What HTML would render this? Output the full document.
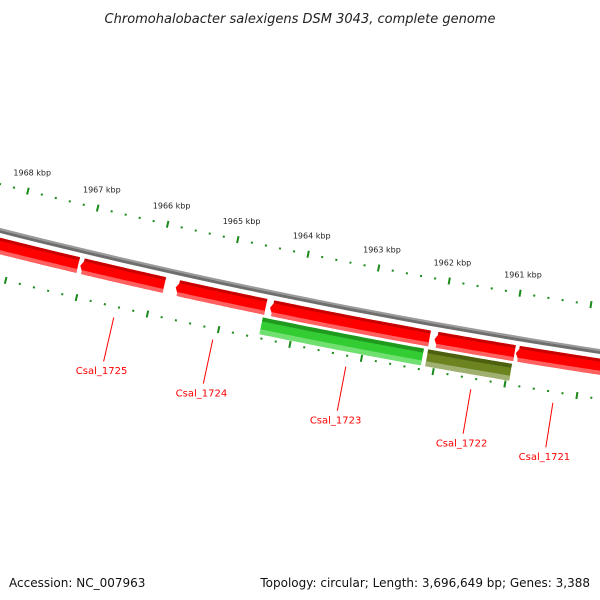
<!DOCTYPE html>
<html><head><meta charset="utf-8"><style>
html,body{margin:0;padding:0;background:#fff;}
svg{display:block;font-family:"DejaVu Sans","Liberation Sans",sans-serif;}
</style></head><body>
<svg id="map" width="600" height="600" viewBox="0 0 600 600" xmlns="http://www.w3.org/2000/svg">
<text x="300" y="23" text-anchor="middle" font-size="13" font-style="italic" fill="#222">Chromohalobacter salexigens DSM 3043, complete genome</text>
<g id="ticks"></g>
<g id="backbone"></g>
<g id="genes"></g>
<g id="labels"></g>
<text x="9" y="587" font-size="12" fill="#111">Accession: NC_007963</text>
<text x="590" y="587" text-anchor="end" font-size="12" fill="#111">Topology: circular; Length: 3,696,649 bp; Genes: 3,388</text>
</svg>
<script>
const tickKbp = [1959,1960,1961,1962,1963,1964,1965,1966,1967,1968,1969];
const tickLabels = ["1961 kbp","1962 kbp","1963 kbp","1964 kbp","1965 kbp","1966 kbp","1967 kbp","1968 kbp"];
const tickLabelKbp = [1961,1962,1963,1964,1965,1966,1967,1968];
const upperStarts = [1968.95,1967.05,1965.70,1964.37,1962.06,1960.92];
const upperEnds   = [1967.08,1965.86,1964.43,1962.13,1960.94,1958.8];
const lowerStarts = [1964.44,1962.12];
const lowerEnds   = [1962.18,1960.95];
const lowerColors = ["green","olive"];
const labelNames = ["Csal_1725","Csal_1724","Csal_1723","Csal_1722","Csal_1721"];
const labelKbp = [1966.44,1965.05,1963.19,1961.45,1960.31];

const NS="http://www.w3.org/2000/svg";
const A=1558.5,B=-5949,T0=-0.1989,D=0.01135,R=6373;
function ang(k){return T0+(1964-k)*D;}
function pt(k,r){const t=ang(k);return [A+r*Math.sin(t),B+r*Math.cos(t)];}
function mk(tag,attrs,parent){const e=document.createElementNS(NS,tag);for(const k in attrs)e.setAttribute(k,attrs[k]);parent.appendChild(e);return e;}
function arcPts(k1,k2,r){const p=[];const n=30;for(let i=0;i<=n;i++){p.push(pt(k1+(k2-k1)*i/n,r));}return p;}
function band(k1,k2,r1,r2){const a=arcPts(k1,k2,r1),b=arcPts(k2,k1,r2);return a.concat(b).map(p=>p[0].toFixed(1)+","+p[1].toFixed(1)).join(" ");}

const ticks=document.getElementById('ticks');
[6328,6420].forEach((rr,ri)=>{
  for(let k=1958.8;k<=1969.2;k+=0.2){
    const kk=Math.round(k*5)/5;
    const major=tickKbp.some(v=>Math.abs(v-kk)<1e-6);
    const h=major?3.5:1;
    const p1=pt(kk,rr-h),p2=pt(kk,rr+h);
    const l=mk('line',{x1:p1[0],y1:p1[1],x2:p2[0],y2:p2[1],stroke:'#1a8a1a','stroke-width':2},ticks);
    
    
  }
});
tickLabels.forEach((s,i)=>{
  const p=pt(tickLabelKbp[i],6310);
  const t=mk('text',{x:p[0],y:p[1]+2,'text-anchor':'middle','font-size':8,fill:'#222'},ticks);
  t.textContent=s;
  
  
});

const bb=document.getElementById('backbone');
[[R-2.5,R-0.5,'#9a9a9a'],[R-0.5,R+2.5,'#6e6e6e']].forEach(b=>{
  const p=mk('polygon',{points:band(1958.5,1969.5,b[0],b[1]),fill:b[2]},bb);
  
  
});

const gg=document.getElementById('genes');
const ah=0.06;
function arrowGene(k1,k2,r1,r2,cols,name){
  const g=mk('g',{},gg);
  
  
  const hi=Math.max(k1,k2),lo=Math.min(k1,k2);
  const rm=(r1+r2)/2;
  // outline polygon with arrow tip at hi end
  const top=arcPts(hi-ah,lo,r1), bot=arcPts(lo,hi-ah,r2);
  const pts=top.concat(bot,[pt(hi,rm)]);
  mk('polygon',{points:pts.map(p=>p[0].toFixed(1)+","+p[1].toFixed(1)).join(" "),fill:cols[1]},g);
  mk('polygon',{points:band(hi-ah*0.6,lo,r1,r1+3),fill:cols[0]},g);
  mk('polygon',{points:band(hi-ah*0.6,lo,r2-4,r2),fill:cols[2]},g);
}
upperStarts.forEach((s,i)=>arrowGene(s,upperEnds[i],R+7,R+23,['#c80000','#ff0000','#ff6060'],'cds-upper-'+i));
const palette={green:['#1f9a1f','#33cc33','#70e070'],olive:['#4d6010','#6b8420','#a0b070']};
lowerStarts.forEach((s,i)=>{
  const c=palette[lowerColors[i]];
  const g=mk('g',{},gg);
  
  
  mk('polygon',{points:band(s,lowerEnds[i],R+26,R+43),fill:c[1]},g);
  mk('polygon',{points:band(s,lowerEnds[i],R+26,R+30),fill:c[0]},g);
  mk('polygon',{points:band(s,lowerEnds[i],R+38,R+43),fill:c[2]},g);
});

const lb=document.getElementById('labels');
labelNames.forEach((n,i)=>{
  const p1=pt(labelKbp[i],R+58),p2=pt(labelKbp[i],R+103),p3=pt(labelKbp[i],R+112);
  const l=mk('line',{x1:p1[0],y1:p1[1],x2:p2[0],y2:p2[1],stroke:'#ff0000','stroke-width':1},lb);
  
  
  const t=mk('text',{x:p3[0],y:p3[1]+4,'text-anchor':'middle','font-size':10,fill:'#ff0000'},lb);
  t.textContent=n;
  
  
});
</script>
</body></html>
